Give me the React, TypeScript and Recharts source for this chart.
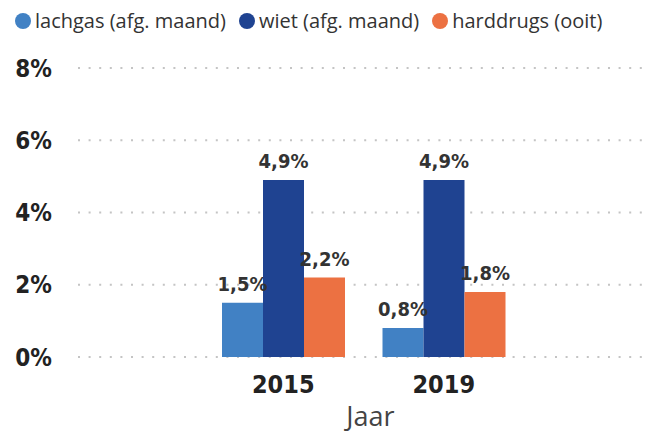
import { Bar, BarChart, CartesianGrid, LabelList, XAxis, YAxis } from "recharts";

const YEARS = ["2015", "2019"];
const LACHGAS = [1.5, 0.8];
const WIET = [4.9, 4.9];
const HARDDRUGS = [2.2, 1.8];
const Y_TICKS = [0, 2, 4, 6, 8];

const SERIES = [
  { key: "lachgas", name: "lachgas (afg. maand)", color: "#4181C4" },
  { key: "wiet", name: "wiet (afg. maand)", color: "#1F4391" },
  { key: "harddrugs", name: "harddrugs (ooit)", color: "#EC7142" },
];

const data = YEARS.map((year, i) => ({
  year,
  lachgas: LACHGAS[i],
  wiet: WIET[i],
  harddrugs: HARDDRUGS[i],
}));

const NUM_FONT = "'DejaVu Sans Condensed', 'DejaVu Sans', sans-serif";
const TEXT_FONT = "'Open Sans', 'Noto Sans', sans-serif";

const pct = (v: unknown) => `${String(v).replace(".", ",")}%`;

function LegendRow() {
  return (
    <div
      style={{
        position: "absolute",
        left: 15,
        top: 7,
        display: "flex",
        gap: 13,
        fontFamily: TEXT_FONT,
        fontSize: 20,
        lineHeight: "28px",
        color: "#333",
        whiteSpace: "nowrap",
      }}
    >
      {SERIES.map((s) => (
        <span key={s.key} style={{ display: "flex", alignItems: "center", gap: 4 }}>
          <span style={{ width: 16, height: 16, borderRadius: "50%", background: s.color, display: "inline-block" }} />
          {s.name}
        </span>
      ))}
    </div>
  );
}

export default function App() {
  return (
    <div style={{ position: "absolute", left: 0, top: 0, width: 647, height: 433, background: "#fff" }}>
      <LegendRow />
      <BarChart
        width={647}
        height={433}
        data={data}
        margin={{ top: 68, right: 4, bottom: 0, left: 0 }}
        barGap={0}
        barSize={41}
      >
        <CartesianGrid vertical={false} stroke="#c4c4c4" strokeWidth={2} strokeDasharray="2 8.6" />
        <XAxis
          dataKey="year"
          height={76}
          axisLine={false}
          tickLine={false}
          tickSize={0}
          tickMargin={18}
          padding={{ left: 125, right: 119 }}
          tick={{ fill: "#222", fontSize: 25, fontWeight: 700, fontFamily: NUM_FONT }}
          label={{
            value: "Jaar",
            position: "insideBottom",
            offset: 7,
            dx: 10,
            fill: "#444",
            fontSize: 27,
            fontFamily: TEXT_FONT,
          }}
        />
        <YAxis
          width={78}
          domain={[0, 8]}
          ticks={Y_TICKS}
          axisLine={false}
          tickLine={false}
          tickSize={0}
          tickMargin={26}
          tickFormatter={(v) => `${v}%`}
          tick={{ fill: "#222", fontSize: 24, fontWeight: 700, fontFamily: NUM_FONT }}
        />
        {SERIES.map((s) => (
          <Bar key={s.key} dataKey={s.key} name={s.name} fill={s.color} isAnimationActive={false}>
            <LabelList
              dataKey={s.key}
              position="top"
              offset={12}
              formatter={pct}
              fill="#333"
              fontSize={20}
              fontWeight={700}
              fontFamily={NUM_FONT}
            />
          </Bar>
        ))}
      </BarChart>
    </div>
  );
}
